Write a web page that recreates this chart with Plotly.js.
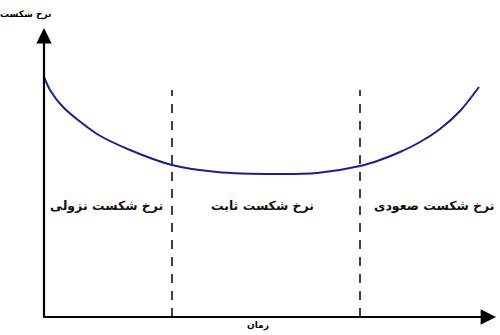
<!DOCTYPE html>
<html>
<head>
<meta charset="utf-8">
<script src="https://cdn.plot.ly/plotly-3.0.1.min.js"></script>
<style>html,body{margin:0;padding:0;background:#fff;}#chart{width:500px;height:335px;}</style>
</head>
<body>
<div id="chart"></div>
<script>
// Bathtub curve: time vs failure rate
const timeValues = [0, 6, 19, 53, 86, 128, 173, 233, 273, 316, 336, 356, 376, 396, 416, 435];
const failureRate = [240, 227, 210, 183, 167, 152, 145, 143, 144, 151, 157, 165, 175, 188, 206, 230];
const phaseBoundaries = [128, 316];
const boundaryTop = 227;
const phaseLabels = ['نرخ شکست نزولی', 'نرخ شکست ثابت', 'نرخ شکست صعودی'];
const phaseLabelX = [62, 218, 390];
const phaseLabelY = 112;
const yAxisTitle = 'نرخ شکست';
const xAxisTitle = 'زمان';

const fontFam = 'DejaVu Sans, sans-serif';

const traces = [];
phaseBoundaries.forEach(b => {
  traces.push({
    x: [b, b], y: [0, boundaryTop], mode: 'lines', type: 'scatter',
    line: {color: '#111', width: 1.6, dash: '9px,8px'}, hoverinfo: 'skip', showlegend: false
  });
});
traces.push({
  x: timeValues, y: failureRate, mode: 'lines', type: 'scatter',
  line: {color: '#1f1f8a', width: 2, shape: 'spline', smoothing: 0.8}, showlegend: false
});

const annotations = [];
phaseLabels.forEach((t, i) => {
  annotations.push({
    x: phaseLabelX[i], y: phaseLabelY, xref: 'x', yref: 'y', text: '<b>' + t + '</b>',
    showarrow: false, font: {family: fontFam, size: 12.5, color: '#111'}
  });
});
// axis arrows
annotations.push({x: 0, y: 1, xref: 'paper', yref: 'paper', ax: 0, ay: 291, axref: 'pixel', ayref: 'pixel',
  showarrow: true, arrowhead: 2, arrowsize: 1.4, arrowwidth: 2.2, arrowcolor: '#000', text: ''});
annotations.push({x: 1, y: 0, xref: 'paper', yref: 'paper', ax: -454, ay: 0, axref: 'pixel', ayref: 'pixel',
  showarrow: true, arrowhead: 2, arrowsize: 1.4, arrowwidth: 2.2, arrowcolor: '#000', text: ''});
annotations.push({x: -0.04, y: 1.048, xref: 'paper', yref: 'paper', xanchor: 'center', yanchor: 'middle',
  text: '<b>' + yAxisTitle + '</b>', showarrow: false, font: {family: fontFam, size: 9, color: '#000'}});
annotations.push({x: 0.473, y: -0.028, xref: 'paper', yref: 'paper', xanchor: 'center', yanchor: 'middle',
  text: '<b>' + xAxisTitle + '</b>', showarrow: false, font: {family: fontFam, size: 9, color: '#000'}});

const layout = {
  width: 500, height: 335,
  margin: {l: 44, r: 4, t: 28, b: 18},
  paper_bgcolor: '#fff', plot_bgcolor: '#fff',
  xaxis: {range: [0, 452], showgrid: false, zeroline: false, showticklabels: false, ticks: '', showline: false},
  yaxis: {range: [0, 289], showgrid: false, zeroline: false, showticklabels: false, ticks: '', showline: false},
  annotations: annotations,
  showlegend: false
};

Plotly.newPlot('chart', traces, layout, {displayModeBar: false, staticPlot: true});
</script>
</body>
</html>
